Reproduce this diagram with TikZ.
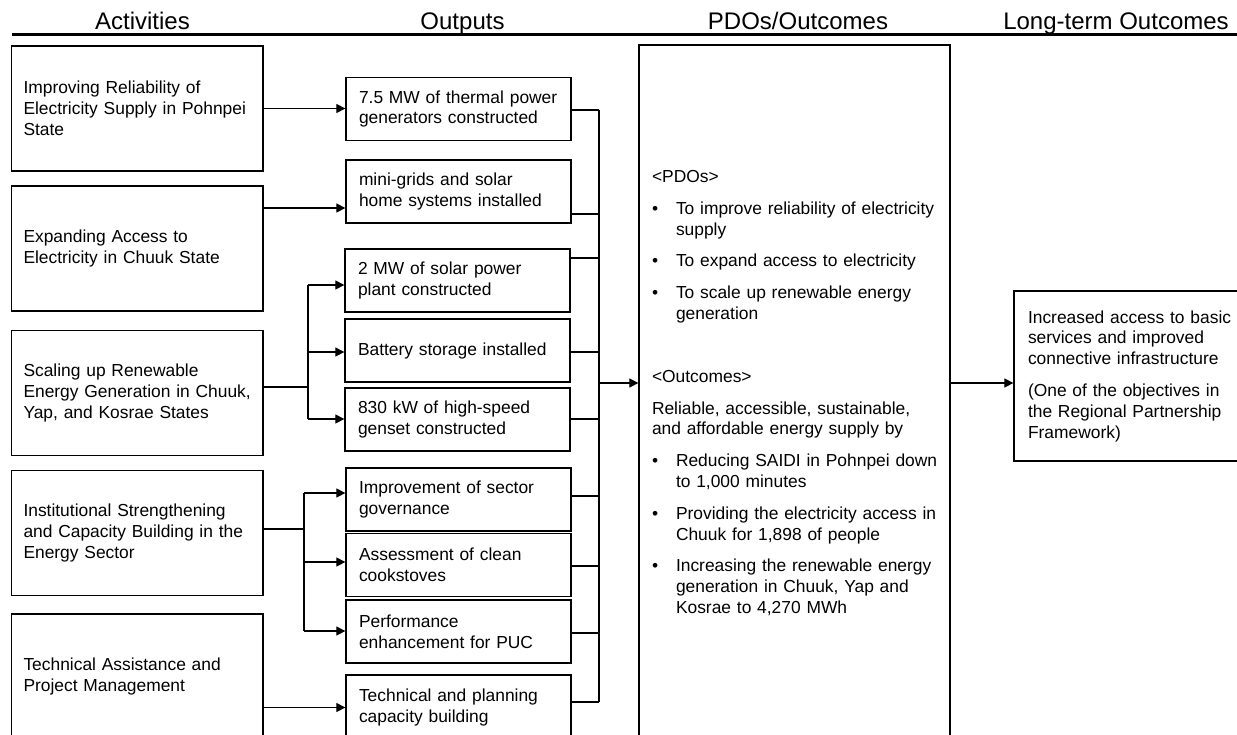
\documentclass[tikz,border=0pt]{standalone}
\usepackage{fontspec}
\setmainfont{Liberation Sans}
\usetikzlibrary{arrows.meta}
\newcommand{\bulx}{\makebox[24pt][l]{•}}
\newcommand{\indx}{\hspace*{24pt}}
\begin{document}
\begin{tikzpicture}[x=1pt,y=-1pt,
 basefont/.style={font=\fontsize{17.4}{20.8}\selectfont},
 actbox/.style={draw, line width=1.3pt, minimum width=251.5pt, minimum height=125pt, inner xsep=12pt, inner ysep=0pt, text width=227.5pt, align=left, basefont},
 outbox/.style={draw, line width=1.3pt, minimum width=225pt, minimum height=63pt, inner xsep=13pt, inner ysep=0pt, text width=199pt, align=left, basefont},
 conn/.style={line width=1.2pt},
 arr/.style={conn, -{Triangle[length=9pt,width=9pt]}},
 hdr/.style={font=\fontsize{24}{28}\selectfont, inner sep=0pt, anchor=base},
]
\useasboundingbox (0,0) rectangle (1237,734);
\clip (0,0) rectangle (1237,734);

% headers
\node[hdr] (h1) at (142.5,29) {Activities};
\node[hdr] (h2) at (462.5,29) {Outputs};
\node[hdr] (h3) at (798,29) {PDOs/Outcomes};
\node[hdr] (h4) at (1116,29) {Long-term Outcomes};
\coordinate (ruleL) at (12,34);
\coordinate (ruleR) at (1240,34);
\draw[line width=3pt] (ruleL) -- (ruleR);

% activities
\node[actbox] (a1) at (137.25,108.5) {Improving Reliability of\\Electricity Supply in Pohnpei\\State};
\node[actbox] (a2) at (137.25,248.5) {Expanding Access to\\Electricity in Chuuk State};
\node[actbox] (a3) at (137.25,393) {Scaling up Renewable\\Energy Generation in Chuuk,\\Yap, and Kosrae States};
\node[actbox] (a4) at (137.25,533) {Institutional Strengthening\\and Capacity Building in the\\Energy Sector};
\node[actbox] (a5) at (137.25,676.5) {Technical Assistance and\\Project Management};

% outputs
\node[outbox] (o1) at (458.5,109) {7.5 MW of thermal power\\generators constructed};
\node[outbox] (o2) at (458.5,191.5) {mini-grids and solar\\home systems installed};
\node[outbox] (o3) at (457.5,280.5) {2 MW of solar power\\plant constructed};
\node[outbox] (o4) at (457.5,350.5) {Battery storage installed};
\node[outbox] (o5) at (457.5,419.5) {830 kW of high-speed\\genset constructed};
\node[outbox] (o6) at (458.5,499.5) {Improvement of sector\\governance};
\node[outbox] (o7) at (458.5,565) {Assessment of clean\\cookstoves};
\node[outbox] (o8) at (458.5,631.5) {Performance\\enhancement for PUC};
\node[outbox, minimum height=65pt] (o9) at (458.5,707.5) {Technical and planning\\capacity building};

% PDO box
\node[draw, line width=1.3pt, minimum width=311pt, minimum height=696pt, inner xsep=13pt, inner ysep=0pt, text width=285pt, align=left, basefont] (pdo) at (794.5,393) {%
<PDOs>\\[11pt]
\mbox{\bulx To improve reliability of electricity}\\
\indx supply\\[11pt]
\bulx To expand access to electricity\\[11pt]
\bulx To scale up renewable energy\\
\indx generation\\[42pt]
<Outcomes>\\[11pt]
Reliable, accessible, sustainable,\\
and affordable energy supply by\\[11pt]
\mbox{\bulx Reducing SAIDI in Pohnpei down}\\
\indx to 1,000 minutes\\[11pt]
\mbox{\bulx Providing the electricity access in}\\
\indx Chuuk for 1,898 of people\\[11pt]
\bulx Increasing the renewable energy\\
\indx generation in Chuuk, Yap and\\
\indx Kosrae to 4,270 MWh};

% long-term box
\node[draw, line width=1.3pt, minimum width=250pt, minimum height=170pt, inner xsep=14pt, inner ysep=0pt, text width=222pt, align=left, basefont] (lt) at (1139,376) {%
Increased access to basic\\
services and improved\\
connective infrastructure\\[11pt]
(One of the objectives in\\
the Regional Partnership\\
Framework)};

% activity -> output connectors
\draw[arr] (a1.east) -- (o1.west |- a1.east);
\coordinate (r2) at (263,208);
\draw[arr] (a2.east |- r2) -- (o2.west |- r2);

\coordinate (b3) at (308,387);
\coordinate (b3t) at (308,285);
\coordinate (b3m) at (308,352);
\coordinate (b3b) at (308,419);
\draw[conn] (a3.east |- b3) -- (b3);
\draw[conn] (b3t) -- (b3b);
\draw[arr] (b3t) -- (o3.west |- b3t);
\draw[arr] (b3m) -- (o4.west |- b3m);
\draw[arr] (b3b) -- (o5.west |- b3b);

\coordinate (b4) at (304,529);
\coordinate (b4t) at (304,493);
\coordinate (b4m) at (304,562);
\coordinate (b4b) at (304,631);
\draw[conn] (a4.east |- b4) -- (b4);
\draw[conn] (b4t) -- (b4b);
\draw[arr] (b4t) -- (o6.west |- b4t);
\draw[arr] (b4m) -- (o7.west |- b4m);
\draw[arr] (b4b) -- (o8.west |- b4b);

\draw[arr] (a5.east |- o9.west) -- (o9.west);

% output bus
\coordinate (busT) at (599,110);
\coordinate (busB) at (599,702);
\coordinate (busM) at (599,383);
\draw[conn] (busT) -- (busB);
\draw[conn] (o1.east |- busT) -- (busT);
\draw[conn] (o2.east |- 0,214) -- (busT |- 0,214);
\draw[conn] (o3.east |- 0,258) -- (busT |- 0,258);
\draw[conn] (o4.east |- 0,352) -- (busT |- 0,352);
\draw[conn] (o5.east |- 0,419) -- (busT |- 0,419);
\draw[conn] (o6.east |- 0,496) -- (busT |- 0,496);
\draw[conn] (o7.east |- 0,566) -- (busT |- 0,566);
\draw[conn] (o8.east |- 0,633) -- (busT |- 0,633);
\draw[conn] (o9.east |- busB) -- (busB);
\draw[arr] (busM) -- (pdo.west |- busM);

% PDO -> long-term
\draw[arr] (pdo.east |- busM) -- (lt.west |- busM);
\end{tikzpicture}
\end{document}
